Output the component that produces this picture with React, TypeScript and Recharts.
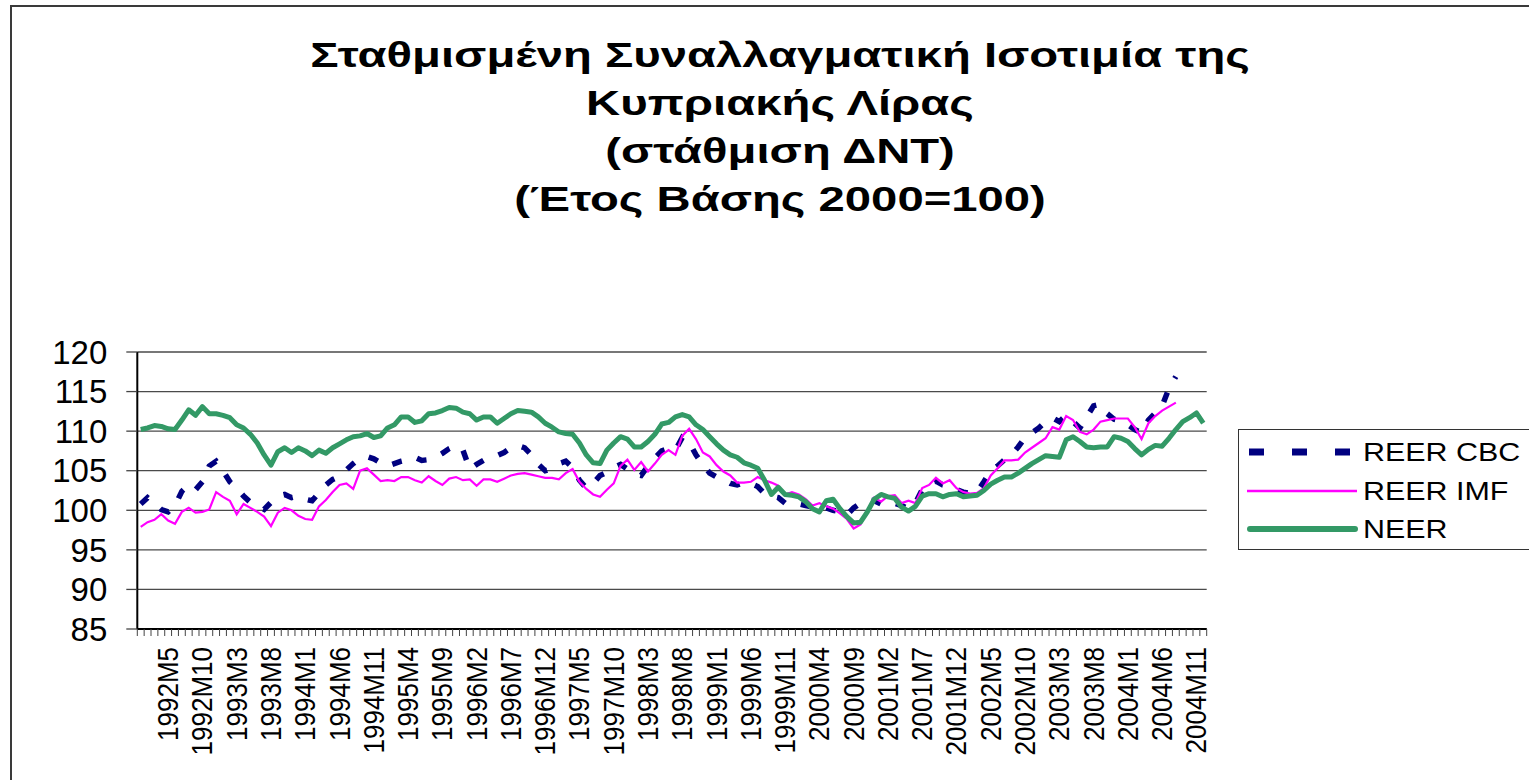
import { LineChart, Line, XAxis, YAxis, CartesianGrid, Legend } from "recharts"

// monthly observations, 1992M1 .. 2004M12
const years = [1992, 1993, 1994, 1995, 1996, 1997, 1998, 1999, 2000, 2001, 2002, 2003, 2004]
const months = years.flatMap((y) => Array.from({ length: 12 }, (_, k) => `${y}M${k + 1}`))

const reerCbc = [
  100.8, 101.6, 100.9, 100.1, 99.8, 100.6, 102.4, 103.2, 102.6, 103.6, 105.6, 106.2,
  105.0, 103.6, 102.8, 101.8, 101.0, 100.5, 100.1, 101.0, 101.8, 102.0, 101.6, 101.8,
  101.4, 101.2, 102.2, 103.2, 103.9, 104.3, 105.1, 105.9, 106.6, 106.8, 106.5, 106.0,
  105.6, 105.9, 106.2, 106.4, 106.7, 106.3, 106.4, 106.7, 107.2, 107.8, 108.2, 107.6,
  105.2, 105.8, 106.3, 106.7, 106.9, 107.3, 107.9, 108.2, 107.9, 107.0, 105.8, 105.0,
  105.3, 105.9, 106.2, 105.4, 103.8, 102.8, 103.4, 104.4, 104.8, 105.4, 105.8, 105.2,
  104.6, 104.4, 105.6, 106.6, 107.5, 107.8, 107.6, 109.2, 108.6, 107.0, 105.8, 104.7,
  104.2, 103.9, 103.4, 103.2, 103.5, 103.4, 103.0, 102.1, 101.8, 101.6, 100.9, 101.0,
  100.8, 100.6, 100.4, 100.5, 100.3, 100.0, 99.8, 99.4, 100.3, 100.9, 101.4, 101.2,
  100.8, 100.6, 100.9, 100.6, 100.2, 100.9, 102.6, 103.3, 103.7, 103.2, 103.0, 102.6,
  102.3, 102.1, 102.3, 103.6, 105.0, 105.6, 106.4, 107.0, 108.0, 109.2, 109.8, 110.4,
  111.2, 111.7, 111.2, 112.0, 111.2, 110.4, 111.8, 113.2, 113.4, 112.2, 111.5, 111.3,
  110.8, 110.2, 109.8, 111.4, 112.3, 113.2, 115.4, 116.9,
]

const reerImf = [
  97.9, 98.5, 98.8, 99.5, 98.7, 98.3, 99.8, 100.3, 99.7, 99.8, 100.1, 102.3,
  101.7, 101.2, 99.5, 100.8, 100.3, 99.8, 99.2, 98.0, 99.7, 100.3, 100.0, 99.3,
  98.9, 98.8, 100.5, 101.3, 102.3, 103.2, 103.4, 102.7, 105.0, 105.3, 104.5, 103.7,
  103.8, 103.7, 104.2, 104.2, 103.8, 103.5, 104.3, 103.7, 103.2, 104.0, 104.2, 103.8,
  103.9, 103.1, 103.9, 103.9, 103.6, 104.0, 104.4, 104.6, 104.7, 104.5, 104.3, 104.1,
  104.1, 103.9, 104.7, 105.2, 103.6, 102.7, 102.0, 101.7, 102.6, 103.4, 105.6, 106.4,
  105.1, 106.1, 104.9, 105.9, 107.0, 107.6, 107.0, 109.4, 110.3, 109.0, 107.3, 106.8,
  105.7, 104.9, 104.4, 103.5, 103.5, 103.6, 104.2, 103.8, 103.5, 103.1, 102.0, 102.3,
  102.0, 101.4, 100.6, 100.9, 100.5, 100.2, 99.6, 98.9, 97.7, 98.2, 100.0, 101.6,
  101.1, 101.8, 101.9, 100.9, 101.2, 100.9, 102.8, 103.2, 104.1, 103.4, 103.8, 102.8,
  102.3, 102.1, 102.2, 102.8, 104.4, 105.3, 106.3, 106.3, 106.4, 107.3, 107.9, 108.5,
  109.1, 110.5, 110.2, 111.9, 111.4, 109.9, 109.6, 110.2, 111.2, 111.4, 111.6, 111.6,
  111.6, 110.5, 109.0, 111.0, 111.9, 112.6, 113.1, 113.6,
]

const neer = [
  110.2, 110.4, 110.7, 110.6, 110.3, 110.2, 111.4, 112.7, 112.0, 113.1, 112.2, 112.2,
  112.0, 111.7, 110.8, 110.4, 109.6, 108.5, 107.0, 105.7, 107.4, 107.9, 107.3, 107.9,
  107.5, 106.9, 107.6, 107.2, 107.9, 108.4, 108.9, 109.3, 109.4, 109.7, 109.2, 109.4,
  110.4, 110.8, 111.8, 111.8, 111.1, 111.3, 112.2, 112.3, 112.6, 113.0, 112.9, 112.4,
  112.2, 111.4, 111.8, 111.8, 111.0, 111.6, 112.2, 112.6, 112.5, 112.4, 111.8, 111.0,
  110.5, 109.9, 109.7, 109.6, 108.5, 107.0, 106.0, 105.9, 107.6, 108.5, 109.3, 109.0,
  108.0, 108.0, 108.7, 109.6, 110.9, 111.1, 111.8, 112.1, 111.8, 110.8, 110.2, 109.3,
  108.4, 107.6, 107.0, 106.7, 106.0, 105.7, 105.3, 103.8, 102.0, 102.9, 102.0, 101.9,
  101.7, 101.1, 100.2, 99.8, 101.2, 101.4, 100.2, 99.2, 98.4, 98.5, 99.8, 101.4,
  102.0, 101.7, 101.5, 100.4, 99.9, 100.5, 101.8, 102.1, 102.1, 101.7, 102.0, 102.1,
  101.7, 101.8, 101.9, 102.5, 103.3, 103.8, 104.2, 104.2, 104.7, 105.3, 105.9, 106.4,
  106.9, 106.8, 106.7, 108.9, 109.3, 108.7, 108.0, 107.9, 108.0, 108.0, 109.3, 109.1,
  108.7, 107.8, 107.0, 107.7, 108.2, 108.1, 109.1, 110.2, 111.2, 111.7, 112.3, 111.0,
]

const yTicks = [85, 90, 95, 100, 105, 110, 115, 120]

const titleLines = [
  "Σταθμισμένη Συναλλαγματική Ισοτιμία της",
  "Κυπριακής Λίρας",
  "(στάθμιση ΔΝΤ)",
  "(Έτος Βάσης 2000=100)",
]

const data = months.map((month, i) => ({
  month,
  cbc: reerCbc[i] ?? null,
  imf: reerImf[i] ?? null,
  neer: neer[i] ?? null,
}))

const FONT = '"Liberation Sans", Arial, sans-serif'
const W = 1529
const H = 780
const PLOT_LEFT = 137.3
const PLOT_RIGHT = 1206.7
const STEP = (PLOT_RIGHT - PLOT_LEFT) / months.length

function MonthTick(props: any) {
  const { x, y, payload, index } = props
  const i = index ?? payload?.index ?? 0
  const left = x - STEP / 2
  return (
    <g>
      <line x1={left} y1={y - 7} x2={left} y2={y} stroke="#444" strokeWidth={1} />
      {i === months.length - 1 && (
        <line x1={x + STEP / 2} y1={y - 7} x2={x + STEP / 2} y2={y} stroke="#444" strokeWidth={1} />
      )}
      {i % 5 === 4 && (
        <text
          transform={`translate(${x + 10},${y + 11}) rotate(-90) scale(1,1.1)`}
          textAnchor="end"
          fontSize={26}
          fontFamily={FONT}
          fill="#000"
        >
          {payload.value}
        </text>
      )}
    </g>
  )
}

function LegendBox() {
  const rows = [
    { label: "REER CBC", kind: "cbc" },
    { label: "REER IMF", kind: "imf" },
    { label: "NEER", kind: "neer" },
  ]
  return (
    <div
      style={{
        width: 330,
        height: 121,
        border: "1.5px solid #333",
        background: "#fff",
        boxSizing: "border-box",
        fontFamily: FONT,
        position: "relative",
      }}
    >
      {rows.map((r, k) => (
        <div key={r.kind} style={{ position: "absolute", left: 0, top: 22 + k * 38.5 - 19, height: 38, width: 330 }}>
          <svg width={120} height={38} style={{ position: "absolute", left: 0, top: 0 }}>
            {r.kind === "cbc" && (
              <line x1={10} y1={19} x2={113} y2={19} stroke="#000080" strokeWidth={7} strokeDasharray="15 28" />
            )}
            {r.kind === "imf" && <line x1={8} y1={19} x2={118} y2={19} stroke="#FF00FF" strokeWidth={2.5} />}
            {r.kind === "neer" && (
              <line x1={11} y1={19} x2={116} y2={19} stroke="#339966" strokeWidth={6} strokeLinecap="round" />
            )}
          </svg>
          <span
            style={{
              position: "absolute",
              left: 124,
              top: 0,
              lineHeight: "38px",
              fontSize: 26,
              color: "#000",
              whiteSpace: "nowrap",
              transform: "scaleX(1.17)",
              transformOrigin: "left center",
            }}
          >
            {r.label}
          </span>
        </div>
      ))}
    </div>
  )
}

export default function App() {
  return (
    <div
      style={{
        position: "absolute",
        left: 0,
        top: 0,
        width: W,
        height: H,
        overflow: "hidden",
        background: "#fff",
        fontFamily: FONT,
      }}
    >
      <div
        style={{
          position: "absolute",
          left: 10,
          top: 5,
          width: W + 40,
          height: H + 40,
          border: "2px solid #3a3a3a",
        }}
      />
      <div
        style={{
          position: "absolute",
          left: 0,
          top: 31,
          width: 1560,
          textAlign: "center",
          transform: "scaleX(1.35)",
          transformOrigin: "780px 0",
        }}
      >
        {titleLines.map((t) => (
          <div key={t} style={{ fontSize: 35, fontWeight: "bold", lineHeight: "48px", color: "#000" }}>
            {t}
          </div>
        ))}
      </div>
      <div style={{ position: "absolute", left: 0, top: 0 }}>
        <LineChart
          width={W}
          height={H}
          data={data}
          margin={{ top: 352, right: W - PLOT_RIGHT, bottom: 11, left: PLOT_LEFT - 100 }}
        >
          <CartesianGrid vertical={false} stroke="#4a4a4a" strokeWidth={1.3} />
          <XAxis
            dataKey="month"
            interval={0}
            height={140}
            padding={{ left: STEP / 2, right: STEP / 2 }}
            tickSize={7}
            tickMargin={0}
            tickLine={false}
            axisLine={{ stroke: "#000", strokeWidth: 2 }}
            tick={<MonthTick />}
          />
          <YAxis
            width={100}
            domain={[85, 120]}
            ticks={yTicks}
            interval={0}
            allowDataOverflow
            tickSize={11}
            tickMargin={19}
            axisLine={{ stroke: "#000", strokeWidth: 2 }}
            tickLine={{ stroke: "#444", strokeWidth: 1.3 }}
            tick={{ fontSize: 33, fill: "#000", fontFamily: FONT }}
          />
          <YAxis
            yAxisId="frame"
            orientation="right"
            width={0}
            tick={false}
            tickLine={false}
            axisLine={{ stroke: "#4a4a4a", strokeWidth: 1.5 }}
          />
          <Legend
            layout="horizontal"
            align="center"
            verticalAlign="middle"
            wrapperStyle={{ left: 1238, top: 429, width: 330, height: 121 }}
            content={() => <LegendBox />}
          />
          <Line
            type="linear"
            dataKey="cbc"
            name="REER CBC"
            stroke="#000080"
            strokeWidth={5.5}
            strokeDasharray="10 16"
            dot={false}
            activeDot={false}
            connectNulls={false}
            isAnimationActive={false}
          />
          <Line
            type="linear"
            dataKey="imf"
            name="REER IMF"
            stroke="#FF00FF"
            strokeWidth={2.2}
            dot={false}
            activeDot={false}
            isAnimationActive={false}
          />
          <Line
            type="linear"
            dataKey="neer"
            name="NEER"
            stroke="#339966"
            strokeWidth={5}
            strokeLinejoin="round"
            dot={false}
            activeDot={false}
            isAnimationActive={false}
          />
        </LineChart>
      </div>
    </div>
  )
}
